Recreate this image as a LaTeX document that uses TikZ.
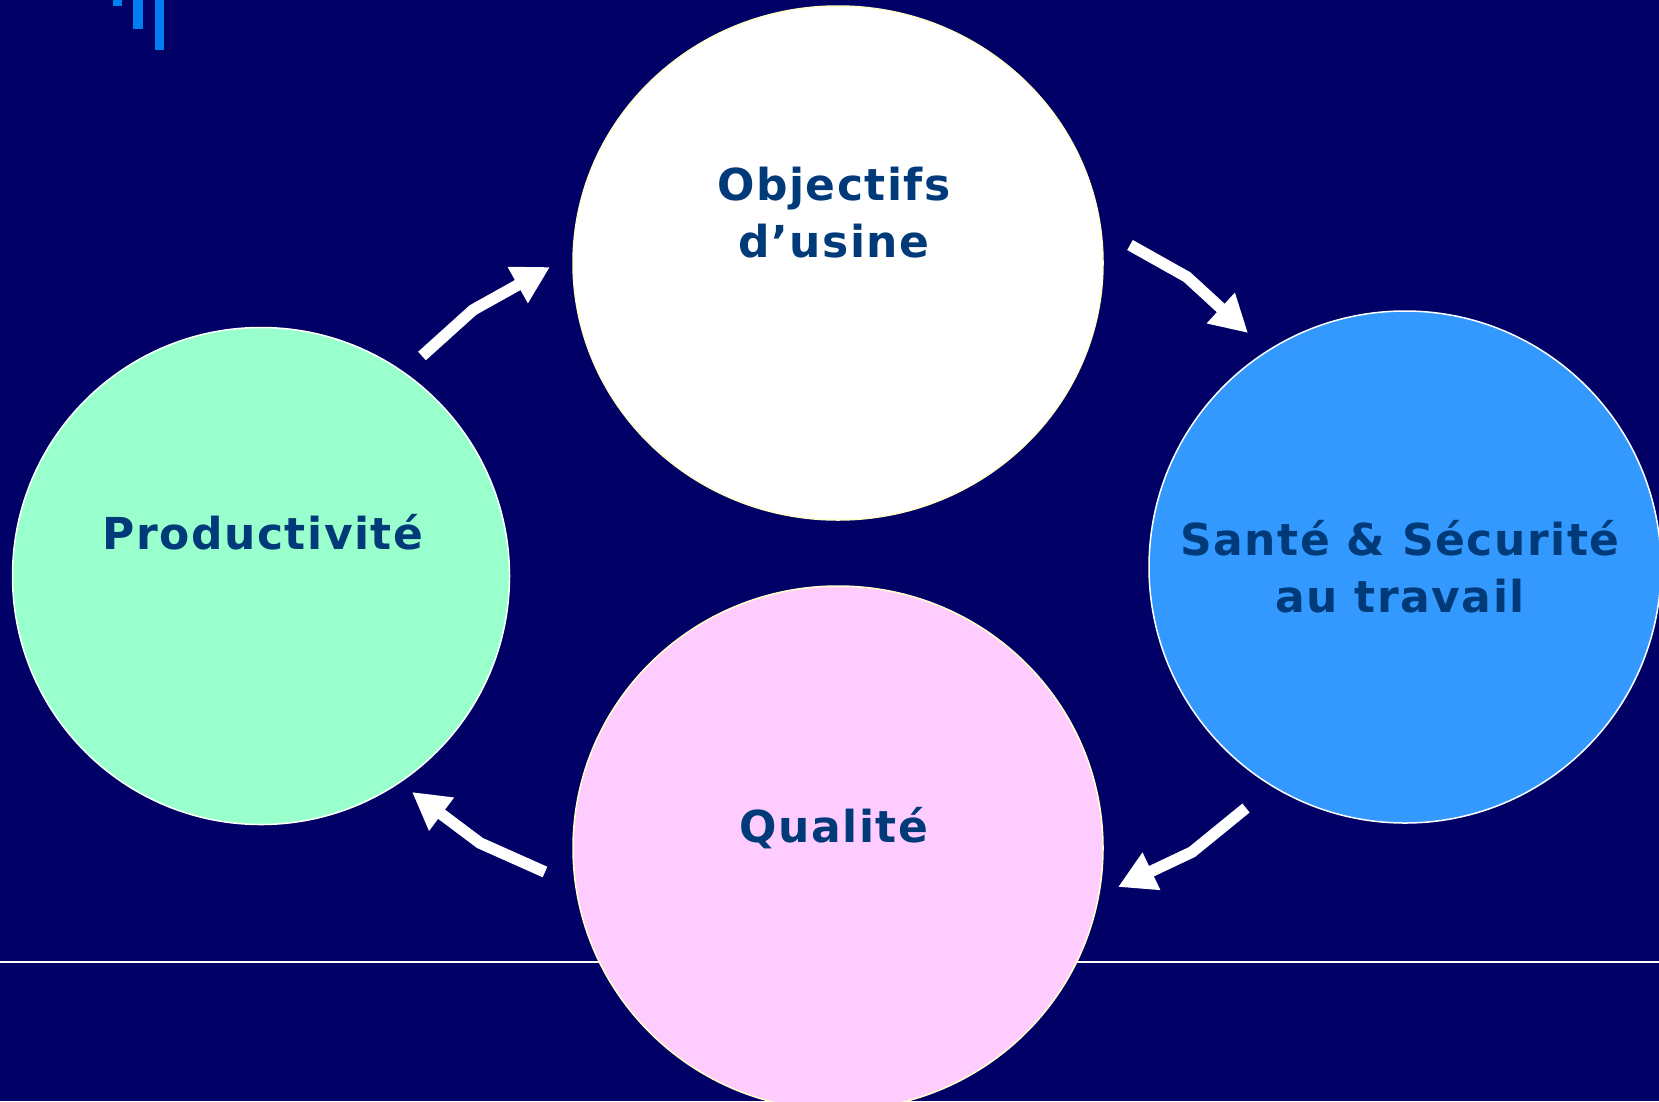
\documentclass[tikz,border=0pt]{standalone}
\usepackage{fontspec}
\newfontfamily\bubblefont[LetterSpace=3.5]{DejaVu Sans}
\usetikzlibrary{arrows.meta,shapes.geometric}

\definecolor{slidebg}{RGB}{0,0,102}
\definecolor{barblue}{RGB}{0,128,240}
\definecolor{mintfill}{RGB}{153,255,204}
\definecolor{skyfill}{RGB}{51,153,255}
\definecolor{pinkfill}{RGB}{255,204,255}
\definecolor{paleedge}{RGB}{255,255,204}
\definecolor{captionblue}{RGB}{0,58,120}

\tikzstyle{bubble}=[circle,draw=white,line width=1.5pt,inner sep=0pt]
\tikzstyle{oval}=[ellipse,draw=paleedge,line width=1.5pt,inner sep=0pt,minimum width=530pt]
\tikzstyle{caption}=[text=captionblue,font=\bubblefont\bfseries\fontsize{44}{57}\selectfont,align=center,anchor=base,inner sep=0pt]
\tikzstyle{flow}=[white,line width=11.5pt,line join=miter,-{Triangle[length=37pt,width=39pt]}]

\begin{document}
\begin{tikzpicture}[x=1pt,y=-1pt]
    \useasboundingbox (0,0) rectangle (1659,1101);
    \fill[slidebg] (0,0) rectangle (1659,1101);

    % rule and corner bars
    \draw[white,line width=2pt] (0,962) -- (1659,962);
    \fill[barblue] (113,0) rectangle (122,6);
    \fill[barblue] (133,0) rectangle (143,29);
    \fill[barblue] (155,0) rectangle (164,50);

    \node[oval,fill=white,minimum height=514pt] (obj) at (838,263) {};
    \node[bubble,fill=mintfill,minimum size=497pt] (prod) at (261,576) {};
    \node[bubble,fill=skyfill,minimum size=512pt] (sante) at (1405,567) {};
    \node[oval,fill=pinkfill,minimum height=524pt] (qual) at (838,848) {};

    % base = baseline of the last line
    \node[caption] (objtext) at (834,257) {Objectifs\\d’usine};
    \node[caption] (prodtext) at (263,549) {Productivité};
    \node[caption] (santetext) at (1400,612) {Santé \& Sécurité\\au travail};
    \node[caption] (qualtext) at (834,842) {Qualité};

    \coordinate (a1s) at (422,356);
    \coordinate (a1b) at (473,310);
    \coordinate (a1e) at (550,267);
    \coordinate (a2s) at (1130,245);
    \coordinate (a2b) at (1187,277);
    \coordinate (a2e) at (1248,333);
    \coordinate (a3s) at (1246,808);
    \coordinate (a3b) at (1192,852);
    \coordinate (a3e) at (1118,887);
    \coordinate (a4s) at (545,872);
    \coordinate (a4b) at (480,843);
    \coordinate (a4e) at (412,792);

    \draw[flow] (a1s) -- (a1b) -- (a1e);
    \draw[flow] (a2s) -- (a2b) -- (a2e);
    \draw[flow] (a3s) -- (a3b) -- (a3e);
    \draw[flow] (a4s) -- (a4b) -- (a4e);
\end{tikzpicture}
\end{document}
